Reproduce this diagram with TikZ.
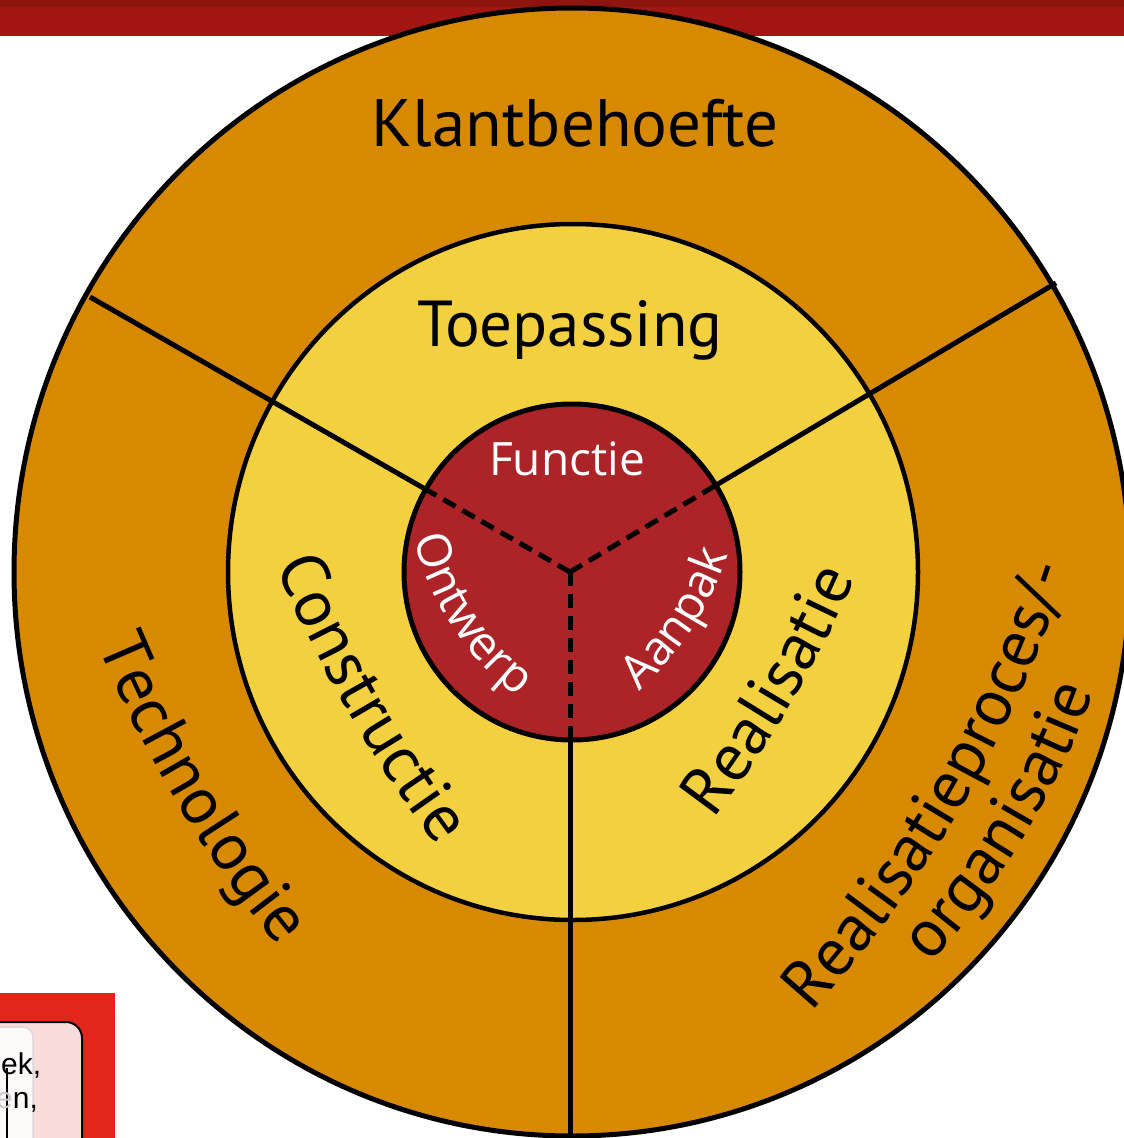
\documentclass[tikz,border=0pt]{standalone}
\usepackage{fontspec}
\setmainfont{PT Sans}
\newfontfamily\blkfont{PT Sans}
\newfontfamily\whtfont{Open Sans}
\newfontfamily\arialfont{Liberation Sans}
\usetikzlibrary{decorations.text,calc}
\definecolor{ringO}{HTML}{D78A00}
\definecolor{ringY}{HTML}{F2D03F}
\definecolor{coreR}{HTML}{AD2428}
\definecolor{barR}{HTML}{A31611}
\definecolor{barD}{HTML}{8E1410}
\definecolor{boxR}{HTML}{E3261B}
\definecolor{boxP}{HTML}{FADCDA}
\newcommand{\curvetext}[5]{%
  \path[decorate,decoration={text along path,text align=center,text={|#4|#5}}]
    ($(#1)!-40pt!(#2)$) -- (#1) .. controls ($(#1)!2/3!(#2)$) and ($(#3)!2/3!(#2)$) .. (#3) -- ($(#3)!-40pt!(#2)$);}
\newcommand{\blk}{\blkfont\fontsize{67}{80}\selectfont}
\newcommand{\wht}{\whtfont\fontsize{47}{56}\selectfont\color{white}}
\begin{document}
\begin{tikzpicture}[x=1pt,y=1pt,
  divider/.style={line width=5pt,line cap=butt},
  coredash/.style={line width=5pt,dash pattern=on 14pt off 8pt},
  bigtext/.style={anchor=base,inner sep=0pt,font=\blk},
  coretext/.style={anchor=base,inner sep=0pt,font=\whtfont\fontsize{46}{55}\selectfont,text=white}]
\useasboundingbox (0,0) rectangle (1124,-1138);
\clip (0,0) rectangle (1124,-1138);
% top bar
\fill[barR] (0,0) rectangle (1124,-36);
\fill[barD] (0,0) rectangle (1124,-7);
% rings
\filldraw[fill=ringO,line width=5pt] (572,-572) ellipse [x radius=558pt,y radius=564pt];
\filldraw[fill=ringY,line width=4.5pt] (573,-572) ellipse [x radius=345pt,y radius=348pt];
\filldraw[fill=coreR,line width=5pt] (572,-572) circle [radius=168pt];
% dividers
\coordinate (C) at (570,-572);
\coordinate (L) at (90,-297);
\coordinate (R) at (1056,-283);
\coordinate (B) at (570,-1150);
\coordinate (Lc) at ($(C)!168pt!(L)$);
\coordinate (Rc) at ($(C)!168pt!(R)$);
\coordinate (Bc) at ($(C)!168pt!(B)$);
\draw[divider] (Lc) -- (L);
\draw[divider] (Rc) -- (R);
\draw[divider] (Bc) -- (B);
\draw[coredash] (C) -- (Lc);
\draw[coredash] (C) -- (Rc);
\draw[coredash] (C) -- (Bc);
% straight labels
\node[bigtext] (klant) at (575,-146) {Klantbehoefte};
\node[bigtext,font=\blkfont\fontsize{65}{78}\selectfont] (toep) at (570,-346) {Toepassing};
\node[coretext] (func) at (567,-475) {Functie};
% curved labels
\curvetext{101,-653}{167,-809}{273,-940}{\blk}{Technologie}
\curvetext{275,-564}{339,-716}{438,-848}{\blk}{Constructie}
\curvetext{714,-818}{799,-707}{855,-579}{\blk}{Realisatie}
\curvetext{806,-1018}{988,-819}{1070,-562}{\blk}{Realisatieproces/-}
\curvetext{932,-962}{1038,-843}{1093,-694}{\blk}{organisatie}
\curvetext{416,-547}{441,-633}{510,-691}{\wht}{Ontwerp}
\curvetext{640,-690}{700.7,-634}{728,-556}{\wht}{Aanpak}
% bottom-left fragment
\fill[boxR] (0,-993) rectangle (115,-1138);
\draw[line width=2pt,fill=boxP,rounded corners=16pt] (-30,-1022) rectangle (82,-1180);
\draw[line width=1.5pt,draw=black!15,fill=white,fill opacity=0.85,rounded corners=10pt] (-30,-1027) rectangle (33,-1180);
\draw[line width=2pt] (7,-1068) -- (7,-1140);
\node[anchor=base west,inner sep=0pt,font=\arialfont\fontsize{30}{36}\selectfont] (frag1) at (1,-1074) {ek,};
\node[anchor=base west,inner sep=0pt,font=\arialfont\fontsize{30}{36}\selectfont] (frag2) at (-4,-1108) {\textcolor{black!20}{e}n,};
\end{tikzpicture}
\end{document}
